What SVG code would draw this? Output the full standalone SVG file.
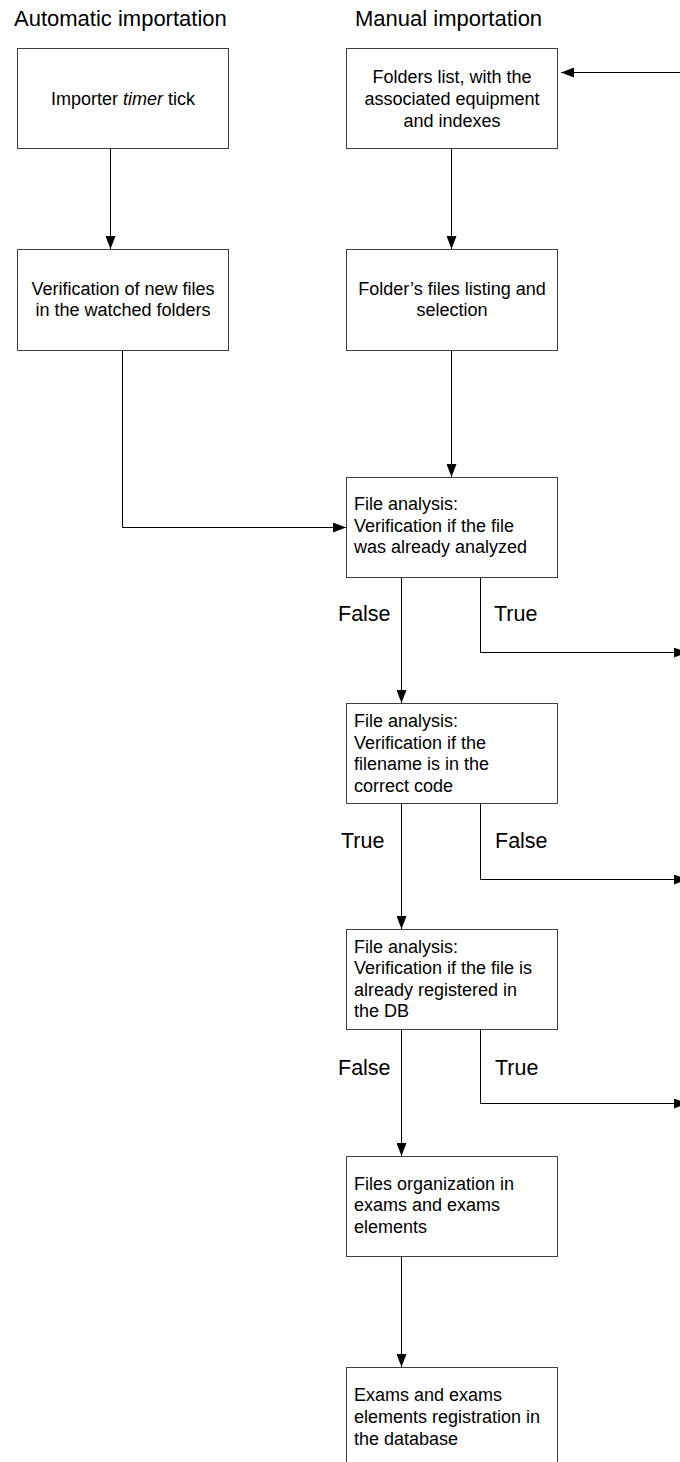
<svg xmlns="http://www.w3.org/2000/svg" width="680" height="1462" viewBox="0 0 680 1462">
<defs>
<style>
.box{fill:#ffffff;stroke:#404040;stroke-width:1}
.t{font-family:"Liberation Sans",Arial,sans-serif;font-size:18px;fill:#000}
.c{text-anchor:middle}
.h{font-family:"Liberation Sans",Arial,sans-serif;font-size:22px;fill:#000}
.lbl{font-family:"Liberation Sans",Arial,sans-serif;font-size:21.5px;fill:#000}
.conn{fill:none;stroke:#000;stroke-width:1;marker-end:url(#arr)}
</style>
<marker id="arr" markerUnits="userSpaceOnUse" markerWidth="13" markerHeight="10" refX="13" refY="5" orient="auto">
<path d="M0,0 L13,5 L0,10 z" fill="#000"/>
</marker>
</defs>
<rect width="680" height="1462" fill="#fff"/>
<text class="h" x="14" y="26">Automatic importation</text>
<text class="h" x="355" y="26">Manual importation</text>

<g id="connectors">
<path class="conn" d="M110.5 148 V249"/>
<path class="conn" d="M451.5 148 V249"/>
<path class="conn" d="M122.5 350 V527.5 H346"/>
<path class="conn" d="M451.5 350 V477"/>
<path class="conn" d="M401.5 577 V703"/>
<path class="conn" d="M480.5 577 V652.5 H687"/>
<path class="conn" d="M401.5 803 V929"/>
<path class="conn" d="M480.5 803 V879.5 H687"/>
<path class="conn" d="M401.5 1029 V1156"/>
<path class="conn" d="M480.5 1029 V1103.5 H687"/>
<path class="conn" d="M401.5 1256 V1367"/>
<path class="conn" d="M700 72.5 H561"/>
<text class="lbl" x="338" y="620.5">False</text>
<text class="lbl" x="494" y="620.5">True</text>
<text class="lbl" x="341" y="847.5">True</text>
<text class="lbl" x="495" y="847.5">False</text>
<text class="lbl" x="338" y="1074.5">False</text>
<text class="lbl" x="495" y="1074.5">True</text>
</g>

<g id="timer">
<rect class="box" x="17.5" y="48.5" width="211" height="100"/>
<text class="t c" x="123" y="104.5">Importer <tspan font-style="italic">timer</tspan> tick</text>
</g>
<g id="folders">
<rect class="box" x="346.5" y="48.5" width="211" height="100"/>
<text class="t c" x="452" y="83">Folders list, with the</text>
<text class="t c" x="452" y="105">associated equipment</text>
<text class="t c" x="452" y="126.5">and indexes</text>
</g>
<g id="verif-new">
<rect class="box" x="17.5" y="249.5" width="211" height="101"/>
<text class="t c" x="123" y="295">Verification of new files</text>
<text class="t c" x="123" y="316">in the watched folders</text>
</g>
<g id="listing">
<rect class="box" x="346.5" y="249.5" width="211" height="101"/>
<text class="t c" x="452" y="295">Folder’s files listing and</text>
<text class="t c" x="452" y="316">selection</text>
</g>
<g id="analysis1">
<rect class="box" x="346.5" y="477.5" width="211" height="100"/>
<text class="t" x="354" y="510">File analysis:</text>
<text class="t" x="354" y="531.5">Verification if the file</text>
<text class="t" x="354" y="553">was already analyzed</text>
</g>
<g id="analysis2">
<rect class="box" x="346.5" y="703.5" width="211" height="100"/>
<text class="t" x="354" y="727">File analysis:</text>
<text class="t" x="354" y="748.5">Verification if the</text>
<text class="t" x="354" y="770">filename is in the</text>
<text class="t" x="354" y="791.5">correct code</text>
</g>
<g id="analysis3">
<rect class="box" x="346.5" y="929.5" width="211" height="100"/>
<text class="t" x="354" y="952.5">File analysis:</text>
<text class="t" x="354" y="974">Verification if the file is</text>
<text class="t" x="354" y="995.5">already registered in</text>
<text class="t" x="354" y="1017">the DB</text>
</g>
<g id="organization">
<rect class="box" x="346.5" y="1156.5" width="211" height="100"/>
<text class="t" x="354" y="1189.5">Files organization in</text>
<text class="t" x="354" y="1211">exams and exams</text>
<text class="t" x="354" y="1232.5">elements</text>
</g>
<g id="registration">
<rect class="box" x="346.5" y="1367.5" width="211" height="100"/>
<text class="t" x="354" y="1401">Exams and exams</text>
<text class="t" x="354" y="1423">elements registration in</text>
<text class="t" x="354" y="1444.5">the database</text>
</g>
</svg>
